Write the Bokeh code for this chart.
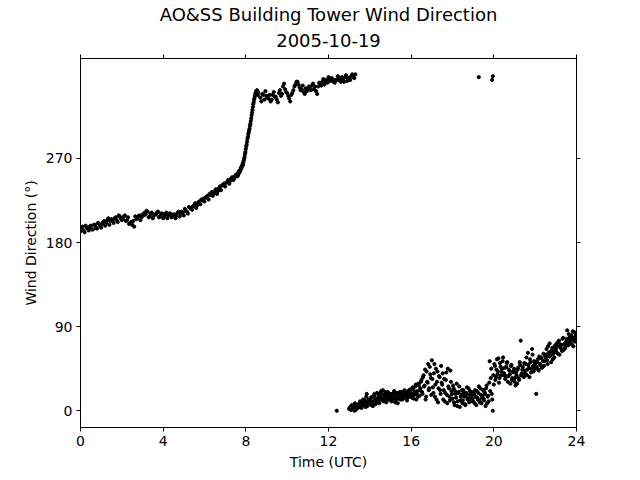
import numpy as np
from bokeh.plotting import figure
from bokeh.models import Range1d, FixedTicker, LinearAxis, Title, ColumnDataSource
from bokeh.embed import file_html
from bokeh.resources import INLINE

# ---- data (hours UTC, wind direction in degrees) ----
# Segment A1: 0.0-7.6 h, 6-minute samples
a1_start, a1_step = 0.0, 0.1
a1_wd = [192, 197, 191, 196, 193, 198, 194, 199, 195, 200, 196,
         202, 198, 204, 199, 205, 201, 207, 202, 208, 204,
         208, 203, 207, 201, 199, 197, 205, 208, 204, 210,
         212, 214, 207, 211, 206, 210, 212, 207, 211, 206,
         210, 206, 211, 207, 210, 206, 212, 208, 213, 209,
         214, 211, 217, 215, 220, 217, 223, 221, 225, 224,
         229, 226, 231, 230, 235, 232, 238, 236, 242, 240,
         245, 243, 249, 247, 252, 251]
# Segment A1b: 0.05-7.55 h (interleaved samples)
a1b_start, a1b_step = 0.05, 0.1
a1b_wd = [196, 193, 198, 195, 197, 194, 199, 196, 201, 198,
          200, 203, 201, 206, 203, 204, 206, 204, 209, 206,
          205, 209, 204, 200, 202, 203, 208, 206, 209, 207,
          209, 210, 213, 208, 212, 209, 210, 213, 208, 211,
          208, 212, 209, 211, 208, 210, 209, 213, 211, 212,
          216, 213, 218, 217, 219, 222, 220, 224, 226, 227,
          228, 230, 232, 234, 233, 237, 235, 240, 241, 243,
          244, 247, 246, 250, 249, 253]
# Segment A2: 7.62-8.60 h (rapid veer)
a2_start, a2_step = 7.62, 0.02
a2_wd = [254, 253, 256, 255, 257, 256, 258, 260, 259, 261,
         262, 264, 263, 266, 268, 270, 272, 275, 277, 280,
         283, 285, 288, 291, 293, 296, 298, 300, 302, 305,
         307, 310, 313, 316, 319, 322, 325, 328, 330, 333,
         335, 337, 339, 340, 342, 341, 343, 340, 338, 341]
# Segment A3: 8.7-13.3 h
a3_start, a3_step = 8.7, 0.1
a3_wd = [335, 339, 333, 337,
         334, 331, 338, 336, 333, 340, 337, 347, 344, 340,
         334, 338, 343, 349, 352, 346, 344, 341, 345, 343,
         346, 348, 344, 342, 347, 350, 352, 349, 354, 357,
         353, 355, 351, 354, 356, 352, 355, 357, 353, 356,
         358, 357, 360]
# Segment A3b: 8.75-13.25 h (interleaved samples)
a3b_start, a3b_step = 8.75, 0.1
a3b_wd = [331, 338, 342, 335,
          338, 333, 341, 336, 330, 343, 339, 350, 341, 337,
          331, 340, 347, 352, 349, 343, 348, 339, 342, 347,
          343, 350, 347, 339, 351, 348, 355, 352, 351, 355,
          356, 352, 354, 358, 353, 357, 352, 359, 356, 354,
          360, 356]
# Segment B: 13.0-24.0 h, 3-minute samples
b_start, b_step = 13.0, 0.05
b_wd = [2, 4, 1, 5, 3, 0, 6, 2, 4, 7,
        5, 9, 3, 8, 6, 11, 4, 18, 8, 12,
        7, 14, 10, 5, 16, 12, 9, 19, 13, 8,
        15, 21, 11, 17, 13, 20, 9, 16, 12, 18,
        14, 10, 17, 13, 19, 11, 16, 8, 15, 20,
        17, 12, 19, 14, 21, 16, 11, 18, 22, 15,
        19, 14, 23, 17, 26, 12, 21, 29, 16, 24,
        33, 18, 38, 27, 12, 42, 30, 22, 47, 35,
        54, 25, 40, 15, 45, 31, 9, 37, 22, 48,
        28, 12, 34, 19, 41, 8, 26, 15, 43, 21,
        13, 24, 6, 18, 29, 10, 20, 4, 15, 22,
        11, 19, 7, 16, 25, 13, 9, 21, 14, 18,
        10, 17, 22, 6, 14, 19, 11, 24, 8, 16,
        13, 20, 5, 27, 15, 10, 53, 35, 18, 0,
        28, 48, 36, 55, 42, 30, 51, 38, 45, 57,
        40, 34, 47, 52, 37, 43, 29, 49, 35, 41,
        31, 27, 38, 44, 35, 52, 75, 40, 47, 36,
        43, 50, 38, 62, 46, 55, 41, 66, 48, 53,
        45, 18, 52, 44, 58, 49, 56, 47, 61, 53,
        57, 66, 50, 62, 72, 59, 64, 55, 68, 63,
        66, 72, 61, 75, 68, 70, 64, 78, 71, 67,
        74, 86, 70, 78, 73, 81, 76, 69, 84, 79,
        76]
# Segment B2: 13.025-23.975 h (interleaved samples)
b2_start, b2_step = 13.025, 0.05
b2_wd = [3, 1, 6, 2, 4, 8, 1, 5, 3, 6,
         10, 4, 7, 12, 6, 9, 15, 5, 11, 8,
         11, 6, 15, 9, 18, 7, 13, 10, 16, 12,
         19, 13, 22, 10, 15, 18, 12, 20, 14, 17,
         11, 18, 14, 21, 9, 15, 19, 13, 17, 12,
         20, 15, 13, 22, 17, 19, 14, 21, 16, 23,
         17, 25, 13, 20, 28, 18, 15, 27, 22, 31,
         20, 36, 26, 44, 15, 31, 50, 24, 39, 17,
         34, 19, 50, 28, 12, 42, 24, 36, 18, 30,
         40, 22, 10, 33, 17, 45, 24, 11, 31, 18,
         27, 9, 21, 14, 5, 19, 26, 11, 17, 8,
         22, 15, 6, 19, 12, 24, 17, 10, 20, 13,
         19, 8, 15, 21, 12, 26, 9, 17, 14, 22,
         11, 18, 24, 8, 16, 30, 21, 45, 12, 38,
         50, 33, 44, 39, 56, 35, 47, 42, 53, 38,
         46, 37, 51, 31, 44, 39, 48, 33, 42, 45,
         35, 41, 29, 46, 33, 49, 38, 44, 37, 51,
         40, 57, 44, 49, 36, 52, 45, 60, 42, 50,
         51, 47, 55, 43, 50, 57, 46, 53, 48, 59,
         60, 54, 69, 58, 63, 52, 67, 61, 57, 70,
         63, 69, 74, 60, 71, 66, 77, 65, 72, 69,
         77, 72, 82, 75, 80, 71, 85, 78, 74, 81]
# isolated observations
iso_t = [12.4, 19.27, 19.92, 19.95]
iso_wd = [0, 357, 354, 358]

x_ticks = [0, 4, 8, 12, 16, 20, 24]
y_ticks = [0, 90, 180, 270]
title1 = "AO&SS Building Tower Wind Direction"
title2 = "2005-10-19"


def seg(start, step, vals):
    return list(np.round(start + step * np.arange(len(vals)), 3)), vals


ts, ws = [], []
for s, st, v in [(a1_start, a1_step, a1_wd), (a1b_start, a1b_step, a1b_wd),
                 (a2_start, a2_step, a2_wd),
                 (a3_start, a3_step, a3_wd), (a3b_start, a3b_step, a3b_wd),
                 (b_start, b_step, b_wd), (b2_start, b2_step, b2_wd)]:
    t, w = seg(s, st, v)
    ts += t
    ws += w
ts += iso_t
ws += iso_wd

src = ColumnDataSource(data=dict(t=ts, wd=ws))

FONT = "DejaVu Sans"
p = figure(width=640, height=480, output_backend="svg", toolbar_location=None,
           x_range=Range1d(0, 24), y_range=Range1d(-17.95, 376.95),
           min_border_left=80, min_border_right=64, min_border_top=58,
           min_border_bottom=53)

p.scatter("t", "wd", source=src, size=3.2, color="black", marker="circle")

p.xgrid.visible = False
p.ygrid.visible = False
p.outline_line_color = "black"
p.outline_line_width = 1

for ax, ticks in [(p.xaxis[0], x_ticks), (p.yaxis[0], y_ticks)]:
    ax.ticker = FixedTicker(ticks=ticks)
    ax.minor_tick_line_color = None
    ax.major_tick_in = 0
    ax.major_tick_out = 4
    ax.major_label_text_font = FONT
    ax.major_label_text_font_size = "14px"
    ax.major_label_text_color = "black"
    ax.axis_label_text_font = FONT
    ax.axis_label_text_font_size = "14px"
    ax.axis_label_text_font_style = "normal"
    ax.axis_label_text_color = "black"
    ax.axis_line_color = "black"
    ax.major_tick_line_color = "black"

p.xaxis.axis_label = "Time (UTC)"
p.yaxis.axis_label = "Wind Direction (°)"
p.xaxis.major_label_standoff = 4
p.yaxis.major_label_standoff = 4
p.xaxis.axis_label_standoff = 5
p.yaxis.axis_label_standoff = 4

top = LinearAxis(ticker=FixedTicker(ticks=x_ticks),
                 major_label_overrides={t: "" for t in x_ticks},
                 minor_tick_line_color=None, major_tick_in=0, major_tick_out=4,
                 major_label_standoff=0, axis_line_color="black",
                 major_tick_line_color="black")
right = LinearAxis(ticker=FixedTicker(ticks=y_ticks),
                   major_label_overrides={t: "" for t in y_ticks},
                   minor_tick_line_color=None, major_tick_in=0, major_tick_out=4,
                   major_label_standoff=0, axis_line_color="black",
                   major_tick_line_color="black")
p.add_layout(top, "above")
p.add_layout(right, "right")

t2 = Title(text=title2, align="center", offset=-8, text_font=FONT,
           text_font_size="18px", text_font_style="normal", text_color="black",
           text_line_height=1.0, standoff=15)
t1 = Title(text=title1, align="center", offset=-8, text_font=FONT,
           text_font_size="18px", text_font_style="normal", text_color="black",
           text_line_height=0.8, standoff=0)
p.add_layout(t2, "above")
p.add_layout(t1, "above")

open("out.html", "w").write(file_html(p, INLINE))
